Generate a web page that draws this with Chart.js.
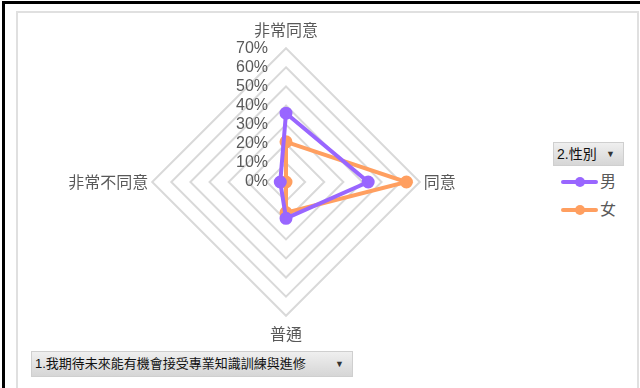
<!DOCTYPE html>
<html>
<head>
<meta charset="utf-8">
<script src="https://cdn.jsdelivr.net/npm/chart.js@4.4.1/dist/chart.umd.min.js"></script>
<style>
  body { margin: 0; width: 640px; height: 388px; overflow: hidden; background: #fff; position: relative;
         font-family: 'Liberation Sans', 'Noto Sans CJK TC', sans-serif; }
  #outer { position: absolute; left: 2px; top: 1px; width: 660px; height: 400px;
           border-left: 3px solid #000; border-top: 3px solid #000; }
  #frame { position: absolute; left: 16px; top: 11px; width: 619px; height: 400px;
           border: 2px solid #e0e0e0; }
  #wrap { position: absolute; left: 36px; top: 20px; width: 500px; height: 324px; }
  .btn { position: absolute; box-sizing: border-box; background: linear-gradient(#efefef, #d6d6d6);
         border: 1px solid #cfcfcf; color: #111; font-size: 14px; line-height: 22px; padding-left: 3px;
         font-family: 'Liberation Sans', 'Noto Sans CJK TC', sans-serif; }
  .btn .arr { position: absolute; right: 8px; top: 0; font-size: 9px; color: #333; }
  #legend { position: absolute; left: 561px; top: 172px; }
  .item { position: relative; height: 28px; }
  .item .ln { position: absolute; left: 0; top: 8px; width: 37px; height: 4px; border-radius: 2px; }
  .item .dot { position: absolute; left: 14px; top: 5px; width: 10px; height: 10px; border-radius: 50%; }
  .item .tx { position: absolute; left: 39px; top: 0; font-size: 16px; line-height: 20px; color: #595959; }
</style>
</head>
<body>
<div id="outer"></div>
<div id="frame"></div>
<div class="btn" style="left:553px;top:142px;width:71px;height:24px;">2.性別<span class="arr">&#9660;</span></div>
<div id="legend"></div>
<div class="btn" style="left:31px;top:351px;width:322px;height:26px;line-height:24px;font-size:13px;">1.我期待未來能有機會接受專業知識訓練與進修<span class="arr" style="line-height:24px">&#9660;</span></div>
<div id="wrap"><canvas id="radarChart"></canvas></div>
<script>
// answer options, clockwise from the top
const categories = ['非常同意', '同意', '普通', '非常不同意'];
const seriesNames = ['男', '女'];
const maleValues = [36, 43, 19, 3];
const femaleValues = [21, 63, 16, 0];
const tickMax = 70;
const tickStep = 10;

const colors = ['#9966ff', '#ff9f60'];

// tick labels sit to the left of the vertical axis, like Excel does it
const sideTicks = {
    id: 'sideTicks',
    afterDraw(chart) {
        const scale = chart.scales.r;
        const ctx = chart.ctx;
        ctx.save();
        ctx.font = '16px "Liberation Sans", sans-serif';
        ctx.fillStyle = '#595959';
        ctx.textAlign = 'right';
        ctx.textBaseline = 'middle';
        scale.ticks.forEach(t => {
            const d = scale.getDistanceFromCenterForValue(t.value);
            ctx.fillText(t.label, scale.xCenter - 18, scale.yCenter - d);
        });
        ctx.restore();
    }
};

const ctx = document.getElementById('radarChart').getContext('2d');
new Chart(ctx, {
    type: 'radar',
    data: {
        labels: categories,
        datasets: [maleValues, femaleValues].map((vals, i) => ({
            label: seriesNames[i],
            data: vals,
            borderColor: colors[i],
            backgroundColor: colors[i],
            pointBackgroundColor: colors[i],
            pointBorderColor: colors[i],
            borderWidth: 4,
            pointRadius: 4.5,
            fill: false
        }))
    },
    options: {
        responsive: true,
        maintainAspectRatio: false,
        animation: false,
        layout: { padding: 0 },
        plugins: {
            legend: { display: false },
            tooltip: { enabled: false }
        },
        scales: {
            r: {
                min: 0,
                max: tickMax,
                angleLines: { display: false },
                grid: { color: '#d9d9d9', lineWidth: 2 },
                ticks: {
                    display: false,
                    stepSize: tickStep,
                    callback: v => v + '%'
                },
                pointLabels: {
                    color: '#595959',
                    font: { size: 16, family: "'Noto Sans CJK TC', sans-serif" },
                    padding: c => (c.index % 2 === 0 ? 9 : 4)
                }
            }
        }
    },
    plugins: [sideTicks]
});

// legend on the right
const legend = document.getElementById('legend');
seriesNames.forEach((name, i) => {
    const el = document.createElement('div');
    el.className = 'item';
    el.innerHTML = `<span class="ln" style="background:${colors[i]}"></span>` +
        `<span class="dot" style="background:${colors[i]}"></span>` +
        `<span class="tx">${name}</span>`;
    legend.appendChild(el);
});
</script>
</body>
</html>
